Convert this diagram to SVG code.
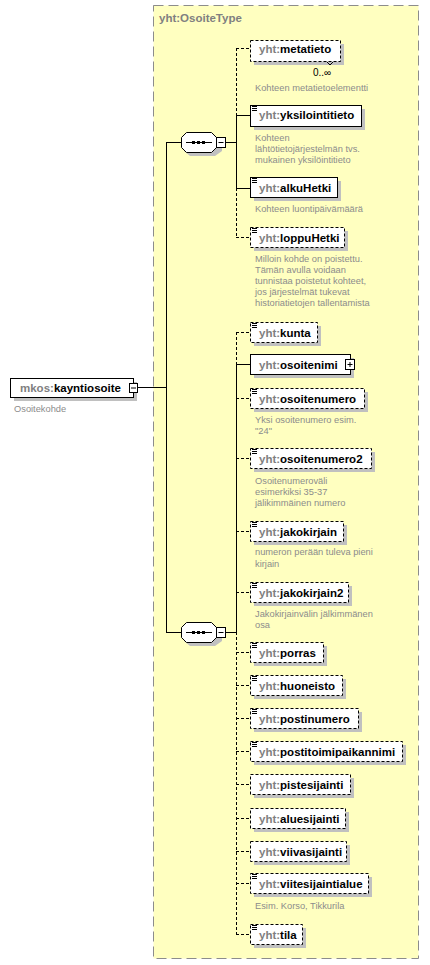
<svg xmlns="http://www.w3.org/2000/svg" width="430" height="965" viewBox="0 0 430 965">
<style>
.name{font-family:"Liberation Sans",Arial,sans-serif;font-size:11.5px;font-weight:bold;fill:#000}
.pfx{fill:#808080}
.doc{font-family:"Liberation Sans",Arial,sans-serif;font-size:9.3px;fill:#8c8c8c}
.sh{fill:#c0c0c0}
.box{fill:#fff;stroke:#000;stroke-width:1}
.opt{stroke-dasharray:3,2}
.ln{stroke:#000;stroke-width:1;fill:none}
.dl{stroke:#000;stroke-width:1;fill:none;stroke-dasharray:3,2}
.ic{stroke:#000;stroke-width:1}
</style>
<defs>
<g id="icon"><path class="ic" d="M2,1.5h5M2,3.5h5M2,5.5h5"/></g>
</defs>
<rect id="type-bg" x="153.5" y="5.5" width="265" height="953" fill="#ffffc0" stroke="#8c8c8c" stroke-dasharray="10,5"/>
<text x="159" y="22" class="name" fill="#808080" style="fill:#808080">yht:OsoiteType</text>

<g id="connectors">
<path class="ln" d="M137,387.5H166.5M166.5,142V632M166,142.5H181M166,632.5H181"/>
<path class="ln" d="M226,142.5H236.5M236.5,115V188M236,115.5H250M236,188.5H250"/>
<path class="dl" d="M236.5,48V115M236.5,188V237M236,48.5H250M236,237.5H250"/>
<path class="ln" d="M226,632.5H236.5M236.5,364V632M236,364.5H250"/>
<path class="dl" d="M236.5,332V364M236.5,632V934M236,332.5H250M236,398.5H250M236,458.5H250M236,531.5H250M236,592.5H250M236,652.5H250M236,685.5H250M236,718.5H250M236,751.5H250M236,784.5H250M236,818.5H250M236,851.5H250M236,883.5H250M236,934.5H250"/>
</g>

<g id="kayntiosoite">
<rect class="sh" x="14" y="382" width="123" height="19"/>
<rect class="box" x="10.5" y="378.5" width="123" height="19"/>
<text x="20" y="392" class="name"><tspan class="pfx">mkos:</tspan>kayntiosoite</text>
<rect class="box" x="129.5" y="383.5" width="8" height="9"/>
<path class="ln" d="M131,388H136"/>
<text x="14" y="412" class="doc">Osoitekohde</text>
</g>

<g id="seq1">
<path class="sh" d="M190,136H215L222,141V151L215,156H190L184,151V141Z"/>
<path class="box" d="M186.5,132.5H211.5L216.5,137.5V147.5L211.5,152.5H186.5L181.5,147.5V137.5Z"/>
<path class="ln" d="M186,142.5H212"/>
<rect x="192" y="141" width="3" height="3"/><rect x="197" y="141" width="3" height="3"/><rect x="202" y="141" width="3" height="3"/>
<rect class="box" x="216.5" y="137.5" width="9" height="10"/>
<path class="ln" d="M218.5,142.5H223.5"/>
</g>

<g id="seq2">
<path class="sh" d="M190,626H215L222,631V641L215,646H190L184,641V631Z"/>
<path class="box" d="M186.5,622.5H211.5L216.5,627.5V637.5L211.5,642.5H186.5L181.5,637.5V627.5Z"/>
<path class="ln" d="M186,632.5H212"/>
<rect x="192" y="631" width="3" height="3"/><rect x="197" y="631" width="3" height="3"/><rect x="202" y="631" width="3" height="3"/>
<rect class="box" x="216.5" y="627.5" width="9" height="10"/>
<path class="ln" d="M218.5,632.5H223.5"/>
</g>

<g id="metatieto">
<rect class="sh" x="254" y="44" width="90" height="21"/>
<rect class="box opt" x="250.5" y="40.5" width="90" height="21"/>
<path class="ln" d="M327,62L330,65L333,62" stroke="#000"/>
<text x="259" y="53" class="name"><tspan class="pfx">yht:</tspan>metatieto</text>
<text x="313" y="76" font-family="Liberation Sans,Arial,sans-serif" font-size="10">0..∞</text>
<text x="255" y="91" class="doc">Kohteen metatietoelementti</text>
</g>

<g id="yksilointitieto">
<rect class="sh" x="254" y="109" width="111" height="21"/>
<rect class="box" x="250.5" y="105.5" width="111" height="21"/>
<use href="#icon" x="250" y="105"/>
<text x="259" y="119" class="name"><tspan class="pfx">yht:</tspan>yksilointitieto</text>
<text x="255" y="141" class="doc">Kohteen</text>
<text x="255" y="152" class="doc">lähtötietojärjestelmän  tvs.</text>
<text x="255" y="163" class="doc">mukainen yksilöintitieto</text>
</g>

<g id="alkuHetki">
<rect class="sh" x="254" y="181" width="87" height="20"/>
<rect class="box" x="250.5" y="177.5" width="87" height="20"/>
<use href="#icon" x="250" y="177"/>
<text x="259" y="192" class="name"><tspan class="pfx">yht:</tspan>alkuHetki</text>
<text x="255" y="212" class="doc">Kohteen luontipäivämäärä</text>
</g>

<g id="loppuHetki">
<rect class="sh" x="254" y="231" width="94" height="20"/>
<rect class="box opt" x="250.5" y="227.5" width="94" height="20"/>
<use href="#icon" x="250" y="227"/>
<text x="259" y="242" class="name"><tspan class="pfx">yht:</tspan>loppuHetki</text>
<text x="255" y="262" class="doc">Milloin kohde on poistettu.</text>
<text x="255" y="273" class="doc">Tämän avulla voidaan</text>
<text x="255" y="284" class="doc">tunnistaa poistetut kohteet,</text>
<text x="255" y="295" class="doc">jos järjestelmät tukevat</text>
<text x="255" y="306" class="doc">historiatietojen tallentamista</text>
</g>

<g id="kunta">
<rect class="sh" x="254" y="326" width="67" height="20"/>
<rect class="box opt" x="250.5" y="322.5" width="67" height="20"/>
<use href="#icon" x="250" y="322"/>
<text x="259" y="337" class="name"><tspan class="pfx">yht:</tspan>kunta</text>
</g>

<g id="osoitenimi">
<rect class="sh" x="254" y="358" width="100" height="20"/>
<rect class="box" x="250.5" y="354.5" width="100" height="20"/>
<text x="259" y="369" class="name"><tspan class="pfx">yht:</tspan>osoitenimi</text>
<rect class="box" x="345.5" y="359.5" width="9" height="10"/>
<path class="ln" d="M347.5,364.5H352.5M350,362V367"/>
</g>

<g id="osoitenumero">
<rect class="sh" x="254" y="392" width="114" height="20"/>
<rect class="box opt" x="250.5" y="388.5" width="114" height="20"/>
<use href="#icon" x="250" y="388"/>
<text x="259" y="403" class="name"><tspan class="pfx">yht:</tspan>osoitenumero</text>
<text x="255" y="423" class="doc">Yksi osoitenumero esim.</text>
<text x="255" y="434" class="doc">"24"</text>
</g>

<g id="osoitenumero2">
<rect class="sh" x="254" y="452" width="121" height="20"/>
<rect class="box opt" x="250.5" y="448.5" width="121" height="20"/>
<use href="#icon" x="250" y="448"/>
<text x="259" y="463" class="name"><tspan class="pfx">yht:</tspan>osoitenumero2</text>
<text x="255" y="484" class="doc">Osoitenumeroväli</text>
<text x="255" y="495" class="doc">esimerkiksi 35-37</text>
<text x="255" y="506" class="doc">jälikimmäinen numero</text>
</g>

<g id="jakokirjain">
<rect class="sh" x="254" y="525" width="93" height="20"/>
<rect class="box opt" x="250.5" y="521.5" width="93" height="20"/>
<use href="#icon" x="250" y="521"/>
<text x="259" y="536" class="name"><tspan class="pfx">yht:</tspan>jakokirjain</text>
<text x="255" y="555" class="doc">numeron perään tuleva pieni</text>
<text x="255" y="567" class="doc">kirjain</text>
</g>

<g id="jakokirjain2">
<rect class="sh" x="254" y="586" width="98" height="20"/>
<rect class="box opt" x="250.5" y="582.5" width="98" height="20"/>
<use href="#icon" x="250" y="582"/>
<text x="259" y="597" class="name"><tspan class="pfx">yht:</tspan>jakokirjain2</text>
<text x="255" y="617" class="doc">Jakokirjainvälin jälkimmänen</text>
<text x="255" y="628" class="doc">osa</text>
</g>

<g id="porras">
<rect class="sh" x="254" y="646" width="73" height="20"/>
<rect class="box opt" x="250.5" y="642.5" width="73" height="20"/>
<use href="#icon" x="250" y="642"/>
<text x="259" y="657" class="name"><tspan class="pfx">yht:</tspan>porras</text>
</g>

<g id="huoneisto">
<rect class="sh" x="254" y="679" width="92" height="20"/>
<rect class="box opt" x="250.5" y="675.5" width="92" height="20"/>
<use href="#icon" x="250" y="675"/>
<text x="259" y="690" class="name"><tspan class="pfx">yht:</tspan>huoneisto</text>
</g>

<g id="postinumero">
<rect class="sh" x="254" y="712" width="108" height="20"/>
<rect class="box opt" x="250.5" y="708.5" width="108" height="20"/>
<use href="#icon" x="250" y="708"/>
<text x="259" y="723" class="name"><tspan class="pfx">yht:</tspan>postinumero</text>
</g>

<g id="postitoimipaikannimi">
<rect class="sh" x="254" y="745" width="152" height="20"/>
<rect class="box opt" x="250.5" y="741.5" width="152" height="20"/>
<use href="#icon" x="250" y="741"/>
<text x="259" y="756" class="name"><tspan class="pfx">yht:</tspan>postitoimipaikannimi</text>
</g>

<g id="pistesijainti">
<rect class="sh" x="254" y="778" width="100" height="20"/>
<rect class="box opt" x="250.5" y="774.5" width="100" height="20"/>
<text x="259" y="789" class="name"><tspan class="pfx">yht:</tspan>pistesijainti</text>
</g>

<g id="aluesijainti">
<rect class="sh" x="254" y="812" width="95" height="20"/>
<rect class="box opt" x="250.5" y="808.5" width="95" height="20"/>
<text x="259" y="823" class="name"><tspan class="pfx">yht:</tspan>aluesijainti</text>
</g>

<g id="viivasijainti">
<rect class="sh" x="254" y="845" width="96" height="20"/>
<rect class="box opt" x="250.5" y="841.5" width="96" height="20"/>
<text x="259" y="856" class="name"><tspan class="pfx">yht:</tspan>viivasijainti</text>
</g>

<g id="viitesijaintialue">
<rect class="sh" x="254" y="877" width="118" height="20"/>
<rect class="box opt" x="250.5" y="873.5" width="118" height="20"/>
<use href="#icon" x="250" y="873"/>
<text x="259" y="888" class="name"><tspan class="pfx">yht:</tspan>viitesijaintialue</text>
<text x="255" y="909" class="doc">Esim. Korso, Tikkurila</text>
</g>

<g id="tila">
<rect class="sh" x="254" y="928" width="52" height="20"/>
<rect class="box opt" x="250.5" y="924.5" width="52" height="20"/>
<use href="#icon" x="250" y="924"/>
<text x="259" y="939" class="name"><tspan class="pfx">yht:</tspan>tila</text>
</g>
</svg>
